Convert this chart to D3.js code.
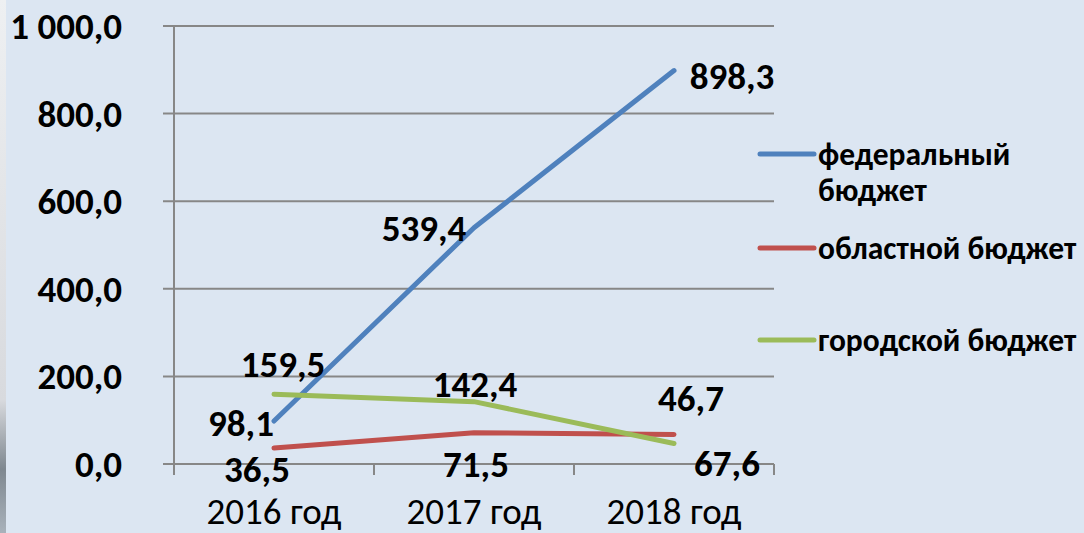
<!DOCTYPE html>
<html>
<head>
<meta charset="utf-8">
<script src="https://cdn.jsdelivr.net/npm/d3@7"></script>
<style>
	body { margin: 0; background: #dce6f2; }
	svg { display: block; }
	text { font-family: Calibri, Carlito, 'Liberation Sans', Arial, sans-serif; fill: #000; }
</style>
</head>
<body>
<div id="chart"></div>
<script>
var years = ['2016 год', '2017 год', '2018 год']
var yTicks = [0, 200, 400, 600, 800, 1000]

var seriesNames = ['федеральный бюджет', 'областной бюджет', 'городской бюджет']
var federal = [98.1, 539.4, 898.3]
var regional = [36.5, 71.5, 67.6]
var city = [159.5, 142.4, 46.7]

var colors = ['#4f81bd', '#c0504d', '#9bbb59']

// label offsets from each point, like in the original slide
var labelOffsets = [
	[[-33, 2], [-50, 0], [58, 6]],
	[[-17, 21], [2, 31], [53, 29]],
	[[9, -30], [1, -18], [17, -45]]
]

var W = 1084
var H = 533

var locale = d3.formatLocale({ decimal: ',', thousands: '\u00a0', grouping: [3], currency: ['', ''] })
var fmt = locale.format(',.1f')

var series = [federal, regional, city].map(function(vals, i) {
	return { name: seriesNames[i], values: vals, color: colors[i], offsets: labelOffsets[i] }
})

var svg = d3.select('#chart').append('svg')
	.attr('width', W)
	.attr('height', H)

// strip of the slide picture on the left edge
var grad = svg.append('defs').append('linearGradient')
	.attr('id', 'strip').attr('x1', 0).attr('y1', 0).attr('x2', 0).attr('y2', 1)
grad.append('stop').attr('offset', '0%').attr('stop-color', '#eef0f2')
grad.append('stop').attr('offset', '75%').attr('stop-color', '#d8dade')
grad.append('stop').attr('offset', '88%').attr('stop-color', '#7f8890')
grad.append('stop').attr('offset', '100%').attr('stop-color', '#a9b2bb')

svg.append('rect').attr('width', W).attr('height', H).attr('fill', '#dce6f2')
svg.append('rect').attr('width', 6).attr('height', H).attr('fill', 'url(#strip)')

var x0 = 174, x1 = 774
var xScale = d3.scalePoint().domain(years).range([x0, x1]).padding(0.5)
var yScale = d3.scaleLinear().domain([0, 1000]).range([464, 26])
var step = xScale.step()

// gridlines
svg.append('g').selectAll('line')
	.data(yTicks)
	.enter().append('line')
	.attr('x1', x0 - 11).attr('x2', x1)
	.attr('y1', function(d) { return yScale(d) })
	.attr('y2', function(d) { return yScale(d) })
	.attr('stroke', '#878787').attr('stroke-width', 2)

// y axis line
svg.append('line')
	.attr('x1', x0).attr('x2', x0)
	.attr('y1', yScale(1000)).attr('y2', yScale(0) + 11)
	.attr('stroke', '#878787').attr('stroke-width', 2)

// x ticks between categories
svg.append('g').selectAll('line')
	.data(years)
	.enter().append('line')
	.attr('x1', function(d) { return xScale(d) + step / 2 })
	.attr('x2', function(d) { return xScale(d) + step / 2 })
	.attr('y1', yScale(0)).attr('y2', yScale(0) + 11)
	.attr('stroke', '#878787').attr('stroke-width', 2)

// y labels
svg.append('g').selectAll('text')
	.data(yTicks)
	.enter().append('text')
	.attr('x', 122)
	.attr('y', function(d) { return yScale(d) })
	.attr('dy', '0.35em')
	.attr('text-anchor', 'end')
	.style('font-size', '37px')
	.style('font-weight', 'bold')
	.text(function(d) { return fmt(d) })

// x labels
svg.append('g').selectAll('text')
	.data(years)
	.enter().append('text')
	.attr('x', function(d) { return xScale(d) })
	.attr('y', 524)
	.attr('text-anchor', 'middle')
	.style('font-size', '37px')
	.text(function(d) { return d })

var line = d3.line()
	.x(function(d, i) { return xScale(years[i]) })
	.y(function(d) { return yScale(d) })

svg.append('g').selectAll('path')
	.data(series)
	.enter().append('path')
	.attr('d', function(d) { return line(d.values) })
	.attr('fill', 'none')
	.attr('stroke', function(d) { return d.color })
	.attr('stroke-width', 5)
	.attr('stroke-linecap', 'round')
	.attr('stroke-linejoin', 'round')

// data labels
series.forEach(function(s) {
	svg.append('g').selectAll('text')
		.data(s.values)
		.enter().append('text')
		.attr('x', function(d, i) { return xScale(years[i]) + s.offsets[i][0] })
		.attr('y', function(d, i) { return yScale(d) + s.offsets[i][1] })
		.attr('dy', '0.35em')
		.attr('text-anchor', 'middle')
		.style('font-size', '37px')
		.style('font-weight', 'bold')
		.text(function(d) { return fmt(d) })
})

// legend
var legendRows = [
	{ y: 154, lines: ['федеральный', 'бюджет'] },
	{ y: 248, lines: ['областной бюджет'] },
	{ y: 340, lines: ['городской бюджет'] }
]

var legend = svg.append('g').selectAll('g')
	.data(series)
	.enter().append('g')

legend.append('line')
	.attr('x1', 760).attr('x2', 814)
	.attr('y1', function(d, i) { return legendRows[i].y })
	.attr('y2', function(d, i) { return legendRows[i].y })
	.attr('stroke', function(d) { return d.color })
	.attr('stroke-width', 5)
	.attr('stroke-linecap', 'round')

legend.each(function(d, i) {
	var t = d3.select(this).append('text')
		.attr('x', 818)
		.attr('y', legendRows[i].y)
		.style('font-size', '31.5px')
		.style('font-weight', 'bold')
	legendRows[i].lines.forEach(function(l, j) {
		t.append('tspan').attr('x', 818).attr('dy', j === 0 ? '0.35em' : '1.15em').text(l)
	})
})
</script>
</body>
</html>
